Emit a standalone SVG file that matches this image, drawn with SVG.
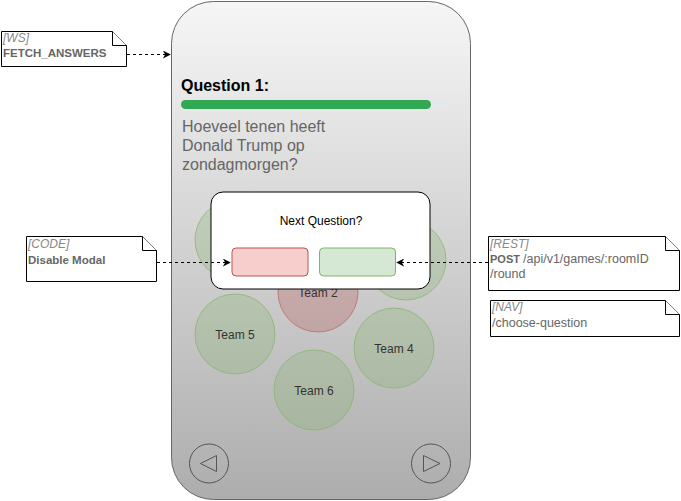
<svg xmlns="http://www.w3.org/2000/svg" width="681" height="501" viewBox="0 0 681 501">
<defs>
<linearGradient id="phoneGrad" x1="0" y1="0" x2="0" y2="1">
<stop offset="0" stop-color="#f6f6f6"/>
<stop offset="1" stop-color="#adadad"/>
</linearGradient>
<marker id="arrow" viewBox="0 0 10 10" refX="9" refY="5" markerWidth="8" markerHeight="8" markerUnits="userSpaceOnUse" orient="auto">
<path d="M0,0 L10,5 L0,10 L3,5 Z" fill="#000"/>
</marker>
<style>
text{font-family:"Liberation Sans",Arial,sans-serif}
.team{fill:#82b366;fill-opacity:0.27;stroke:#82b366;stroke-opacity:0.7;stroke-width:1}
.teamRed{fill:#b85450;fill-opacity:0.28;stroke:#b85450;stroke-opacity:0.6;stroke-width:1}
.teamLbl{font-size:12px;fill:#333;text-anchor:middle}
.note{fill:#fff;stroke:#000;stroke-width:1}
.tag{font-size:12px;font-style:italic;fill:#888}
.ntxt{font-size:12.5px;fill:#666}
.bold{font-weight:bold;font-size:11.5px}
.conn{fill:none;stroke:#000;stroke-width:1;stroke-dasharray:3 3}
.nav{fill:none;stroke:#555;stroke-width:1}
</style>
</defs>
<g id="phone">
<rect x="171.5" y="1.5" width="299" height="498" rx="42" fill="url(#phoneGrad)" stroke="#666" stroke-width="1"/>
</g>
<g id="question">
<text x="181" y="91" font-size="16" font-weight="bold" fill="#000">Question 1:</text>
<rect x="181" y="100" width="268" height="9" rx="4.5" fill="#e4e8ea"/>
<rect x="181" y="100" width="250" height="9" rx="4.5" fill="#33a852"/>
<text x="182" y="132" font-size="16" fill="#666">Hoeveel tenen heeft</text>
<text x="182" y="151" font-size="16" fill="#666">Donald Trump op</text>
<text x="182" y="170" font-size="16" fill="#666">zondagmorgen?</text>
</g>
<g id="team1"><circle class="team" cx="235" cy="240" r="40"/></g>
<g id="team3"><circle class="team" cx="406" cy="260" r="40"/></g>
<g id="team2"><circle class="teamRed" cx="318" cy="292" r="40"/><text class="teamLbl" x="318" y="297">Team 2</text></g>
<g id="team5"><circle class="team" cx="235" cy="334" r="40"/><text class="teamLbl" x="235" y="339">Team 5</text></g>
<g id="team4"><circle class="team" cx="394" cy="348" r="40"/><text class="teamLbl" x="394" y="353">Team 4</text></g>
<g id="team6"><circle class="team" cx="314" cy="390" r="40"/><text class="teamLbl" x="314" y="395">Team 6</text></g>
<g id="modal">
<rect x="211" y="192" width="219" height="97" rx="12" fill="#fff" stroke="#000" stroke-width="1"/>
<text x="321" y="225" font-size="12" fill="#000" text-anchor="middle">Next Question?</text>
</g>
<g id="btnNo"><rect x="232" y="248" width="76" height="28" rx="4" fill="#f8cecc" stroke="#b85450" stroke-width="1"/></g>
<g id="btnYes"><rect x="319.5" y="248" width="76" height="28" rx="4" fill="#d5e8d4" stroke="#82b366" stroke-width="1"/></g>
<g id="navPrev">
<circle class="nav" cx="209" cy="463.5" r="19.5"/>
<path class="nav" d="M200.5,463.5 L216.5,455.5 L216.5,471.5 Z" stroke-linejoin="round" stroke-width="1.2"/>
</g>
<g id="navNext">
<circle class="nav" cx="431" cy="463.5" r="19.5"/>
<path class="nav" d="M440,463.5 L423.5,455.5 L423.5,471.5 Z" stroke-linejoin="round" stroke-width="1.2"/>
</g>
<g id="noteWS">
<path class="note" d="M1.5,31.5 H112.5 L126.5,45.5 V66.5 H1.5 Z"/>
<path class="note" d="M112.5,31.5 V45.5 H126.5" fill="none"/>
<text class="tag" x="3" y="42">[WS]</text>
<text class="ntxt bold" x="3" y="57">FETCH_ANSWERS</text>
</g>
<g id="noteCODE">
<path class="note" d="M26.5,236.5 H142.5 L156.5,250.5 V281.5 H26.5 Z"/>
<path class="note" d="M142.5,236.5 V250.5 H156.5" fill="none"/>
<text class="tag" x="28" y="248">[CODE]</text>
<text class="ntxt bold" x="28" y="264">Disable Modal</text>
</g>
<g id="noteREST">
<path class="note" d="M488.5,236.5 H665.5 L679.5,250.5 V290.5 H488.5 Z"/>
<path class="note" d="M665.5,236.5 V250.5 H679.5" fill="none"/>
<text class="tag" x="490" y="248">[REST]</text>
<text class="ntxt bold" x="490" y="263" style="font-size:11px">POST</text>
<text class="ntxt" x="523" y="263">/api/v1/games/:roomID</text>
<text class="ntxt" x="490" y="278">/round</text>
</g>
<g id="noteNAV">
<path class="note" d="M490.5,300.5 H665.5 L679.5,314.5 V336.5 H490.5 Z"/>
<path class="note" d="M665.5,300.5 V314.5 H679.5" fill="none"/>
<text class="tag" x="492" y="311">[NAV]</text>
<text class="ntxt" x="492" y="327">/choose-question</text>
</g>
<g id="connectors">
<path class="conn" d="M127,54.5 H170" marker-end="url(#arrow)"/>
<path class="conn" d="M157,262.5 H230" marker-end="url(#arrow)"/>
<path class="conn" d="M488,262.5 H397" marker-end="url(#arrow)"/>
</g>
</svg>
